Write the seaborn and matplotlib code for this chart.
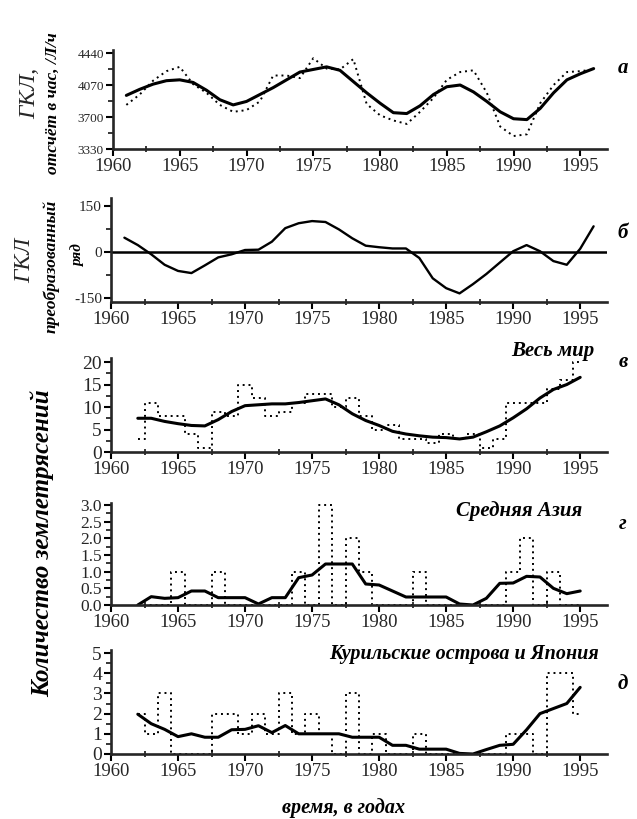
import numpy as np
import pandas as pd
import seaborn as sns
import matplotlib.pyplot as plt
from matplotlib.ticker import MultipleLocator, FixedLocator

sns.set_style("ticks")
plt.rcParams["font.family"] = ["Liberation Serif", "DejaVu Serif"]

# panel a: GCR count rate, raw (dotted) and smoothed (solid)
years_a = list(range(1961, 1997))
gcr_raw = [3840, 3960, 4120, 4230, 4280, 4080, 3980, 3840, 3760, 3780, 3880, 4180,
           4180, 4150, 4380, 4260, 4250, 4370, 3850, 3720, 3660, 3620, 3760, 3920,
           4130, 4220, 4240, 3980, 3590, 3480, 3500, 3860, 4070, 4220, 4230, 4250]
gcr_smooth = [3950, 4020, 4080, 4120, 4130, 4100, 4010, 3900, 3840, 3880, 3960, 4040,
              4130, 4220, 4250, 4280, 4240, 4110, 3980, 3860, 3750, 3740, 3830, 3960,
              4050, 4070, 3990, 3880, 3760, 3680, 3670, 3800, 3980, 4130, 4200, 4260]

# panel b: transformed series
gcr_trans = [46, 22, -8, -42, -62, -69, -44, -18, -8, 6, 7, 33,
             77, 93, 100, 97, 73, 44, 20, 15, 11, 11, -20, -86,
             -118, -135, -105, -72, -35, 2, 22, 2, -30, -42, 10, 83]

# panels v, g, d: earthquake counts
years_q = list(range(1962, 1996))
world_raw = [3, 11, 8, 8, 4, 1, 9, 8, 15, 12, 8, 9, 11, 13, 13, 10, 12,
             8, 5, 6, 3, 3, 2, 4, 3, 4, 1, 3, 11, 11, 11, 14, 16, 20]
world_smooth = [7.5, 7.5, 6.8, 6.3, 5.9, 5.8, 7.2, 9.0, 10.3, 10.5, 10.7, 10.7, 11.0,
                11.4, 11.8, 10.5, 8.5, 7.0, 5.9, 4.6, 4.0, 3.6, 3.3, 3.2, 2.9, 3.3,
                4.5, 5.8, 7.6, 9.6, 12.0, 13.9, 15.0, 16.6]
asia_raw = [0, 0, 0, 1, 0, 0, 1, 0, 0, 0, 0, 0, 1, 0, 3, 0, 2,
            1, 0, 0, 0, 1, 0, 0, 0, 0, 0, 0, 1, 2, 0, 1, 0, 0]
asia_smooth = [0, 0.25, 0.2, 0.22, 0.42, 0.42, 0.22, 0.22, 0.22, 0.03, 0.22, 0.22,
               0.82, 0.9, 1.23, 1.23, 1.23, 0.63, 0.6, 0.42, 0.24, 0.24, 0.24, 0.24,
               0.03, 0, 0.2, 0.65, 0.66, 0.86, 0.84, 0.5, 0.34, 0.42]
kuril_raw = [2, 1, 3, 0, 0, 0, 2, 2, 1, 2, 1, 3, 1, 2, 1, 0, 3,
             0, 1, 0, 0, 1, 0, 0, 0, 0, 0, 0, 1, 1, 0, 4, 4, 2]
kuril_smooth = [1.97, 1.5, 1.22, 0.86, 1.0, 0.83, 0.83, 1.2, 1.22, 1.4, 1.06, 1.41,
                1.0, 1.0, 1.0, 1.0, 0.83, 0.83, 0.83, 0.43, 0.43, 0.24, 0.24, 0.24,
                0.03, 0.0, 0.22, 0.43, 0.48, 1.2, 2.0, 2.25, 2.5, 3.3]

W, H = 637, 819
fig = plt.figure(figsize=(W / 100, H / 100), dpi=100)


def add_axes(top, bottom, left=111, right=607):
    return fig.add_axes([left / W, 1 - bottom / H, (right - left) / W, (bottom - top) / H])


ax_a = add_axes(50, 149, left=113)
ax_b = add_axes(198, 302)
ax_v = add_axes(358, 452)
ax_g = add_axes(503, 605)
ax_d = add_axes(650, 754)
axes = [ax_a, ax_b, ax_v, ax_g, ax_d]

lw_solid = 2.2
dot = dict(color="black", lw=1.4, linestyle=(0, (1, 2)))

# a
sns.lineplot(x=years_a, y=gcr_raw, ax=ax_a, **dot)
sns.lineplot(x=years_a, y=gcr_smooth, ax=ax_a, color="black", lw=lw_solid)
ax_a.set_ylim(3330, 4475)
ax_a.yaxis.set_major_locator(FixedLocator([3330, 3700, 4070, 4440]))
ax_a.yaxis.set_minor_locator(MultipleLocator(185))
ax_a.set_yticklabels(["3330", "3700", "4070", "4440"], fontsize=9.5)

# b
ax_b.axhline(0, color="black", lw=1.8)
sns.lineplot(x=years_a, y=gcr_trans, ax=ax_b, color="black", lw=1.7)
ax_b.set_ylim(-163, 175)
ax_b.yaxis.set_major_locator(FixedLocator([-150, 0, 150]))
ax_b.yaxis.set_minor_locator(MultipleLocator(75))
ax_b.set_yticklabels(["-150", "0", "150"], fontsize=11)

# v, g, d
panels = [
    (ax_v, world_raw, world_smooth, 20.9, 5, 2.5, "{:.0f}", 14),
    (ax_g, asia_raw, asia_smooth, 3.06, 0.5, 0.25, "{:.1f}", 12.5),
    (ax_d, kuril_raw, kuril_smooth, 5.15, 1, 0.5, "{:.0f}", 14),
]
for ax, raw, smooth, top, major, minor, fmt, fs in panels:
    sns.lineplot(x=years_q, y=raw, ax=ax, drawstyle="steps-mid", **dot)
    sns.lineplot(x=years_q, y=smooth, ax=ax, color="black", lw=lw_solid)
    ax.set_ylim(0, top)
    ticks = np.arange(0, top + 1e-9, major)
    ax.yaxis.set_major_locator(FixedLocator(ticks))
    ax.yaxis.set_minor_locator(MultipleLocator(minor))
    ax.set_yticklabels([fmt.format(t) for t in ticks], fontsize=fs)

for ax in axes:
    ax.set_xlim(1960, 1997)
    ax.xaxis.set_major_locator(FixedLocator(range(1960, 1996, 5)))
    ax.xaxis.set_minor_locator(MultipleLocator(2.5))
    ax.set_xticklabels([str(y) for y in range(1960, 1996, 5)], fontsize=13.5)
    ax.tick_params(axis="both", which="major", direction="out", length=5, width=1.5,
                   color="black", pad=1.5)
    ax.tick_params(axis="x", which="minor", direction="inout", length=5, width=1.3)
    ax.tick_params(axis="y", which="minor", direction="out", length=3.5, width=1.3)
    for s in ("top", "right"):
        ax.spines[s].set_visible(False)
    for s in ("left", "bottom"):
        ax.spines[s].set_linewidth(1.9)
    ax.set_xlabel("")
    ax.set_ylabel("")
    ax.set_facecolor("none")

bi = dict(fontweight="bold", fontstyle="italic", color="black")

# panel letters and region names
for letter, y in [("а", 68), ("б", 233), ("в", 362), ("г", 524), ("д", 684)]:
    fig.text(623 / W, 1 - y / H, letter, fontsize=15, ha="center", va="center", **bi)
fig.text(553 / W, 1 - 351 / H, "Весь мир", fontsize=15, ha="center", va="center", **bi)
fig.text(519 / W, 1 - 511 / H, "Средняя Азия", fontsize=15, ha="center", va="center", **bi)
fig.text(464 / W, 1 - 654 / H, "Курильские острова и Япония", fontsize=14.5,
         ha="center", va="center", **bi)

# y axis captions
fig.text(30 / W, 1 - 93 / H, "ГКЛ,", fontsize=17, rotation=90, ha="center", va="center",
         fontstyle="italic")
fig.text(53 / W, 1 - 103 / H, "отсчёт в час, /Л/ч", fontsize=12.5, rotation=90,
         ha="center", va="center", **bi)
fig.text(25 / W, 1 - 260 / H, "ГКЛ", fontsize=17, rotation=90, ha="center", va="center",
         fontstyle="italic")
fig.text(51 / W, 1 - 266 / H, "преобразованный", fontsize=12.5, rotation=90,
         ha="center", va="center", **bi)
fig.text(78 / W, 1 - 256 / H, "ряд", fontsize=11, rotation=90, ha="center", va="center", **bi)
fig.text(42 / W, 1 - 543 / H, "Количество землетрясений", fontsize=18, rotation=90,
         ha="center", va="center", **bi)
fig.text(344 / W, 1 - 808 / H, "время, в годах", fontsize=14.5, ha="center", va="center", **bi)

fig.savefig("out.png", dpi=100)
